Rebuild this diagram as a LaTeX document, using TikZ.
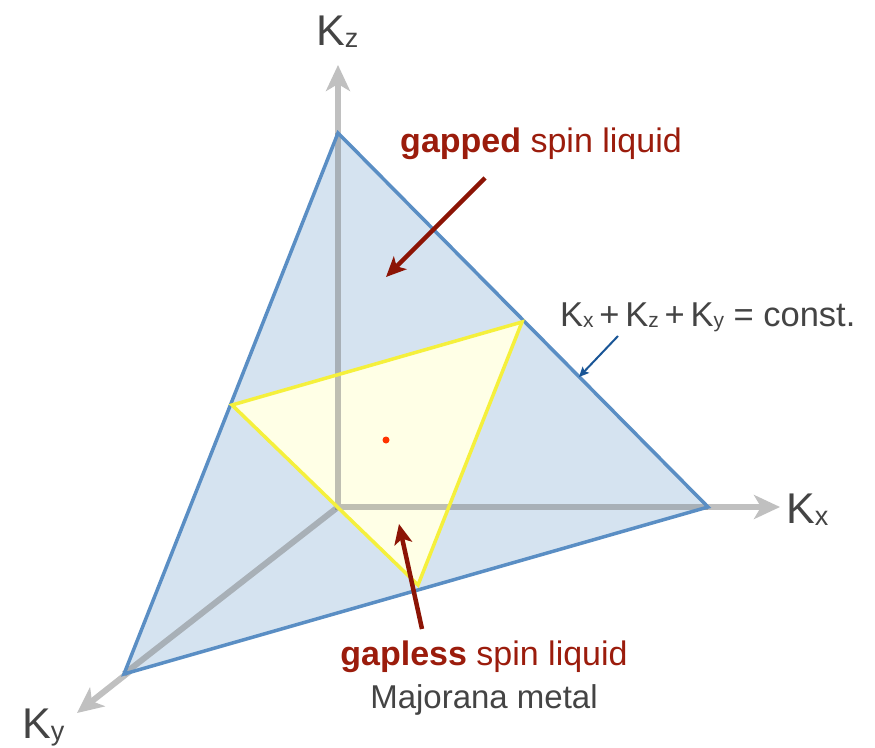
\documentclass[tikz,border=0pt]{standalone}
\usepackage{fontspec}
\setmainfont{Liberation Sans}
\usetikzlibrary{arrows.meta}
\definecolor{axisgray}{RGB}{192,192,192}
\definecolor{axisdark}{RGB}{115,115,115}
\definecolor{trifill}{RGB}{213,227,240}
\definecolor{triedge}{RGB}{90,142,196}
\definecolor{yelfill}{RGB}{255,255,230}
\definecolor{yeledge}{RGB}{245,240,60}
\definecolor{arrred}{RGB}{140,20,5}
\definecolor{txtred}{RGB}{155,28,12}
\definecolor{txtgray}{RGB}{68,68,68}
\definecolor{eqblue}{RGB}{25,85,150}
\newcommand{\axsub}[1]{\raisebox{-2pt}{\fontsize{27}{27}\selectfont #1}}
\newcommand{\eqsub}[1]{\raisebox{-1.5pt}{\fontsize{21}{21}\selectfont #1}}
\tikzset{
  axisline/.style={draw=axisgray, line width=6pt, -{Stealth[length=26pt,width=24pt,inset=7pt]}},
  inneraxis/.style={draw=axisdark, draw opacity=0.45, line width=6pt},
  bigtri/.style={draw=triedge, line width=3.5pt, line join=miter},
  smalltri/.style={draw=yeledge, line width=3.5pt, line join=miter},
  redarrow/.style={draw=arrred, line width=4.5pt, -{Stealth[length=20pt,width=18pt,inset=5pt]}},
  bluearrow/.style={draw=eqblue, line width=2pt, -{Stealth[length=10pt,width=9pt,inset=2pt]}},
  axlabel/.style={anchor=base west, inner sep=0pt, text=txtgray, font=\fontsize{43}{43}\selectfont},
  redlabel/.style={anchor=base, inner sep=0pt, text=txtred, font=\fontsize{34}{34}\selectfont},
  graylabel/.style={anchor=base, inner sep=0pt, text=txtgray, font=\fontsize{33}{33}\selectfont},
}
\begin{document}
\begin{tikzpicture}[x=1pt, y=-1pt]
\useasboundingbox (0,0) rectangle (875,747);
% coordinates
\coordinate (O) at (338,507);
\coordinate (Zt) at (338,133);
\coordinate (Xt) at (708,507);
\coordinate (Yt) at (124,674);
\coordinate (Zend) at (338,65);
\coordinate (Xend) at (780,507);
\coordinate (Yend) at (77,713);
\coordinate (A) at (522,322);
\coordinate (B) at (232,405);
\coordinate (C) at (418,585);
% axes
\draw[axisline] (O) -- (Zend);
\draw[axisline] (O) -- (Xend);
\draw[axisline] (O) -- (Yend);
% planes
\fill[trifill] (Zt) -- (Xt) -- (Yt) -- cycle;
\fill[yelfill] (A) -- (B) -- (C) -- cycle;
\draw[inneraxis] (Zt) -- (O) -- (Xt);
\draw[inneraxis] (O) -- (Yt);
\draw[bigtri] (Zt) -- (Xt) -- (Yt) -- cycle;
\draw[smalltri] (A) -- (B) -- (C) -- cycle;
% center dot
\node[circle, fill={rgb,255:red,255;green,51;blue,0}, inner sep=0pt, minimum size=7pt] (dot) at (386,440) {};
% labels
\node[axlabel] (kz) at (316,45) {K\axsub{z}};
\node[axlabel] (kx) at (786,523) {K\axsub{x}};
\node[axlabel] (ky) at (22,738) {K\axsub{y}};
\node[redlabel] (gapped) at (541,152) {\textbf{gapped} spin liquid};
\node[redlabel] (gapless) at (484,665) {\textbf{gapless} spin liquid};
\node[graylabel] (majorana) at (484,708) {Majorana metal};
\node[anchor=base west, inner sep=0pt, text=txtgray, font=\fontsize{34.5}{34.5}\selectfont] (eq) at (560,326)
  {K\eqsub{x}\,+\,K\eqsub{z}\,+\,K\eqsub{y} = const.};
% arrows
\coordinate (g1) at (485,178);
\coordinate (g2) at (386,277);
\coordinate (l1) at (422,629);
\coordinate (l2) at (399,524);
\coordinate (e1) at (618,336);
\coordinate (e2) at (579,377);
\draw[redarrow] (g1) -- (g2);
\draw[redarrow] (l1) -- (l2);
\draw[bluearrow] (e1) -- (e2);
\end{tikzpicture}
\end{document}
